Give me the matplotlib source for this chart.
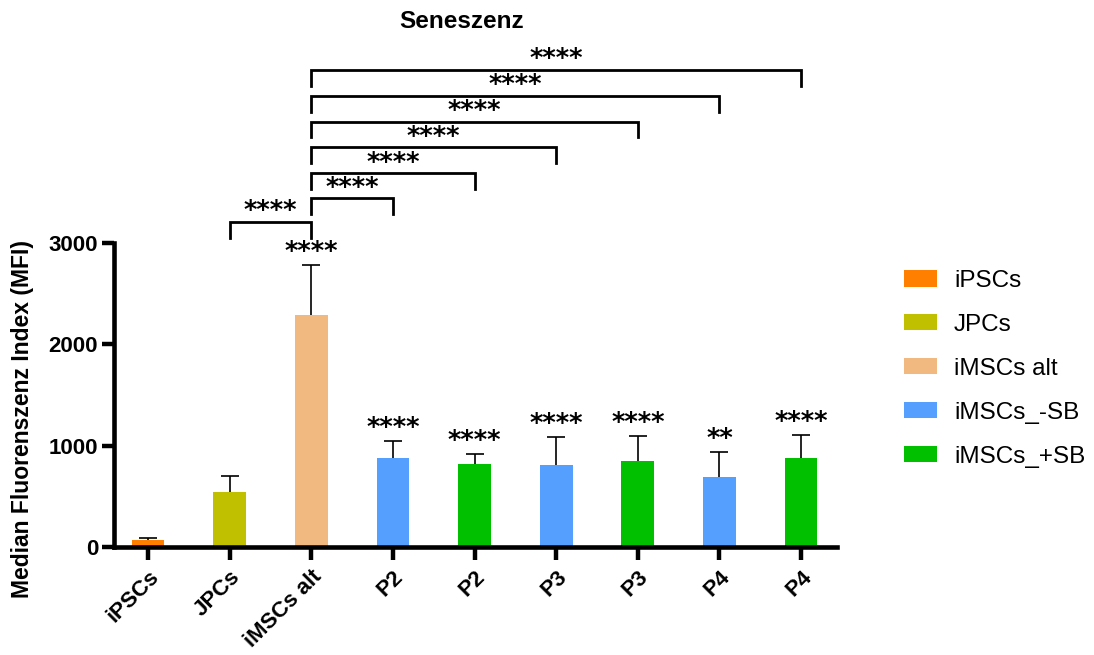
import matplotlib
matplotlib.use("Agg")
import matplotlib.pyplot as plt
from matplotlib.patches import Patch
import numpy as np

plt.rcParams['font.family'] = ['Liberation Sans', 'DejaVu Sans']

# ---- data ----
tick_labels = ["iPSCs", "JPCs", "iMSCs alt", "P2", "P2", "P3", "P3", "P4", "P4"]
groups = ["iPSCs", "JPCs", "iMSCs alt", "iMSCs_-SB", "iMSCs_+SB",
          "iMSCs_-SB", "iMSCs_+SB", "iMSCs_-SB", "iMSCs_+SB"]
means = [69, 544, 2291, 882, 816, 813, 853, 695, 882]
sd_upper = [19, 154, 489, 164, 101, 272, 242, 242, 219]
bar_stars = ["", "", "****", "****", "****", "****", "****", "**", "****"]

legend_names = ["iPSCs", "JPCs", "iMSCs alt", "iMSCs_-SB", "iMSCs_+SB"]
legend_colors = ["#FF7F00", "#C0C000", "#F1B880", "#55A0FF", "#00C000"]

# comparisons against iMSCs alt (index 2)
comp_ref = 2
comp_targets = [1, 3, 4, 5, 6, 7, 8]
comp_stars = ["****"] * 7
comp_levels = [3206, 3441, 3687, 3943, 4199, 4454, 4710]

color_map = dict(zip(legend_names, legend_colors))
colors = [color_map[g] for g in groups]

W, H = 1094, 655
fig = plt.figure(figsize=(W / 100, H / 100), dpi=100)
ax = fig.add_axes([114 / W, (H - 547) / H, (837 - 114) / W, (547 - 243) / H])

x = np.arange(len(means))
ax.bar(x, means, width=0.4, color=colors, zorder=2)
eb = ax.errorbar(x, means, yerr=[np.zeros(len(means)), sd_upper], fmt='none',
                 ecolor='black', elinewidth=1.2, capsize=6.5, capthick=1.2, zorder=3)
if len(eb[1]) >= 2:
    eb[1][0].set_visible(False)

ax.set_xlim(-0.417, 8.44)
ax.set_ylim(0, 3000)
ax.set_yticks([0, 1000, 2000, 3000])
ax.set_yticklabels(["0", "1000", "2000", "3000"], fontsize=16, fontweight='bold')
ax.set_xticks(x)
ax.set_xticklabels(tick_labels, rotation=45, ha='right', rotation_mode='anchor',
                   fontsize=16, fontweight='bold')
ax.tick_params(axis='y', length=8.5, width=3.2, pad=3)
ax.tick_params(axis='x', length=9, width=3.2, pad=5)
for s in ['top', 'right']:
    ax.spines[s].set_visible(False)
for s in ['left', 'bottom']:
    ax.spines[s].set_linewidth(3.3)

fig.text(23 / W, (H - 419) / H, "Median Fluorenszenz Index (MFI)", rotation=90,
         ha='center', va='center', fontsize=16.5, fontweight='bold')

star_font = dict(family='DejaVu Sans', fontsize=18.5, fontweight='bold')

# stars above bars
for i, s in enumerate(bar_stars):
    if s:
        ax.annotate(s, (x[i], means[i] + sd_upper[i]), xytext=(0, 3.6), textcoords='offset points',
                    ha='center', va='baseline', annotation_clip=False, **star_font)

# brackets
tick_h = 157
for t, st, lvl in zip(comp_targets, comp_stars, comp_levels):
    xa, xb = x[comp_ref], x[t]
    ax.plot([xa, xa, xb, xb], [lvl - tick_h, lvl, lvl, lvl - tick_h], color='black',
            lw=2.0, clip_on=False, solid_joinstyle='miter')
    ax.annotate(st, ((xa + xb) / 2, lvl), xytext=(0, 2), textcoords='offset points',
                ha='center', va='baseline', annotation_clip=False, **star_font)

fig.text(462 / W, 1 - 22 / H, "Seneszenz", ha='center', va='center',
         fontsize=17.5, fontweight='bold')

handles = [Patch(facecolor=c, edgecolor='none') for c in legend_colors]
fig.legend(handles, legend_names, loc='upper left', bbox_to_anchor=(904 / W, 1 - 270 / H),
           frameon=False, fontsize=17.5, handlelength=1.36, handleheight=0.65,
           handletextpad=0.7, labelspacing=0.9, borderpad=0, borderaxespad=0)

fig.savefig("out.png", dpi=100)
